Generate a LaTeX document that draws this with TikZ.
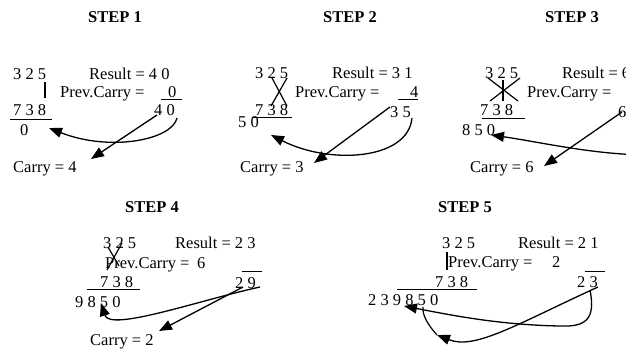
\documentclass[tikz,border=0pt]{standalone}
\usepackage{fontspec}
\setmainfont{Liberation Serif}
\usetikzlibrary{arrows.meta}
\tikzset{
  txt/.style={inner sep=0pt, anchor=base west, font=\fontsize{16.5}{18}\selectfont},
  hd/.style={inner sep=0pt, anchor=base west, font=\fontsize{16.5}{18}\selectfont\bfseries},
  arr/.style={-{Triangle[length=13pt,width=10pt]}, line width=1.3pt},
  plain/.style={line width=1.2pt},
  rule/.style={line width=1pt}
}
\begin{document}
\begin{tikzpicture}[x=1pt,y=-1pt]
\useasboundingbox (0,0) rectangle (626,348);
\clip (0,0) rectangle (626,348);
\fill[white] (0,0) rectangle (626,348);

% headings
\node[hd] (h1) at (88,22.5) {STEP 1};
\node[hd] (h2) at (323,22.5) {STEP 2};
\node[hd] (h3) at (545,22.5) {STEP 3};
\node[hd] (h4) at (125,212.5) {STEP 4};
\node[hd] (h5) at (438,212.5) {STEP 5};

% ---------------- STEP 1
\node[txt] (a1) at (13,79.5) {3 2 5};
\node[txt] (r1) at (89,79.5) {Result = 4 0};
\node[txt] (p1) at (60,97.5) {Prev.Carry =};
\node[txt] (pc1) at (168,97.5) {0};
\node[txt] (b1) at (13,115.5) {7 3 8};
\node[txt] (d1) at (20,135.5) {0};
\node[txt] (v1) at (154,115.5) {4 0};
\node[txt] (c1) at (13,172.5) {Carry = 4};
\draw[plain] (45,82) -- (45,98);
\draw[rule] (161,99) -- (182,99);
\draw[rule] (10,119) -- (52,119);
\coordinate (s1a) at (157,115);
\coordinate (s1b) at (177,118);
\coordinate (t1a) at (91,159);
\coordinate (t1b) at (49,128);
\draw[arr] (s1a) -- (t1a);
\draw[arr] (s1b) .. controls (172,140) and (110,152) .. (t1b);

% ---------------- STEP 2
\node[txt] (a2) at (255,78.5) {3 2 5};
\node[txt] (r2) at (332,78.5) {Result = 3 1};
\node[txt] (p2) at (295,97.5) {Prev.Carry =};
\node[txt] (pc2) at (410,97.5) {4};
\node[txt] (b2) at (255,115) {7 3 8};
\node[txt] (d2) at (238,127.5) {5 0};
\node[txt] (v2) at (390,117.5) {3 5};
\node[txt] (c2) at (240,172.5) {Carry = 3};
\draw[plain] (272,78) -- (287,106);
\draw[plain] (287,78) -- (271,106);
\draw[rule] (252,117) -- (292,117);
\draw[rule] (398,99) -- (418,99);
\coordinate (s2a) at (390,107);
\coordinate (s2b) at (412,118);
\coordinate (t2a) at (314,163);
\coordinate (t2b) at (271,135);
\draw[arr] (s2a) -- (t2a);
\draw[arr] (s2b) .. controls (408,160) and (330,165) .. (t2b);

% ---------------- STEP 3
\node[txt] (a3) at (485,78.5) {3 2 5};
\node[txt] (r3) at (562,78.5) {Result = 6};
\node[txt] (p3) at (527,97.5) {Prev.Carry =};
\node[txt] (b3) at (480,115.5) {7 3 8};
\node[txt] (d3) at (462,135.5) {8 5 0};
\node[txt] (v3) at (618,117.5) {6};
\node[txt] (c3) at (470,172.5) {Carry = 6};
\draw[plain] (488,78) -- (518,101);
\draw[plain] (520,78) -- (490,101);
\draw[plain] (503,80) -- (503,101);
\draw[rule] (482,118.5) -- (525,118.5);
\coordinate (s3a) at (622,112);
\coordinate (s3b) at (645,155);
\coordinate (t3a) at (544,166);
\coordinate (t3b) at (491,135);
\draw[arr] (s3a) -- (t3a);
\draw[arr] (s3b) .. controls (590,154) and (540,142) .. (t3b);

% ---------------- STEP 4
\node[txt] (a4) at (103,248.5) {3 2 5};
\node[txt] (r4) at (175,248.5) {Result = 2 3};
\node[txt] (p4) at (105,268.5) {Prev.Carry =};
\node[txt] (pc4) at (197,268.5) {6};
\node[txt] (b4) at (100,287) {7 3 8};
\node[txt] (d4) at (75,307.5) {9 8 5 0};
\node[txt] (v4) at (235,288.5) {2 9};
\node[txt] (c4) at (90,345.5) {Carry = 2};
\draw[plain] (122,243) -- (107,270);
\draw[plain] (108,247) -- (119,266);
\draw[rule] (87,289) -- (140,289);
\draw[rule] (242,271) -- (262,271);
\coordinate (s4a) at (243,287);
\coordinate (s4b) at (260,287);
\coordinate (t4a) at (159,331);
\coordinate (t4b) at (101,303);
\draw[arr] (s4a) -- (t4a);
\draw[arr] (s4b) .. controls (200,300) and (110,332) .. (t4b);

% ---------------- STEP 5
\node[txt] (a5) at (442,248.5) {3 2 5};
\node[txt] (r5) at (518,248.5) {Result = 2 1};
\node[txt] (p5) at (448,267.5) {Prev.Carry =};
\node[txt] (pc5) at (552,267.5) {2};
\node[txt] (b5) at (435,287) {7 3 8};
\node[txt] (v5) at (577,287.5) {2 3};
\node[txt] (d5) at (368,305.5) {2 3 9 8 5 0};
\draw[plain] (447,252) -- (447,270);
\draw[rule] (585,271) -- (605,271);
\draw[rule] (397,289.5) -- (477,289.5);
\coordinate (s5a) at (590,290);
\coordinate (m5a) at (560,326);
\coordinate (t5a) at (404,306);
\coordinate (s5b) at (598,287);
\coordinate (m5b) at (437,335);
\coordinate (t5b) at (423,307);
\draw[arr] (s5a) .. controls (596,320) and (585,327) .. (m5a)
  .. controls (500,325) and (450,315) .. (t5a);
\draw[arr] (s5b) .. controls (515,325) and (475,350) .. (m5b);
\draw[plain] (m5b) .. controls (428,325) and (422,315) .. (t5b);
\end{tikzpicture}
\end{document}
